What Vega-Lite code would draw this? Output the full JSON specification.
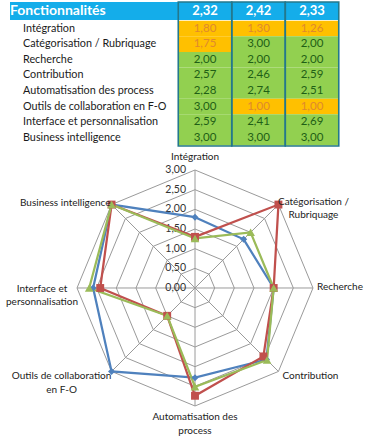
{
  "$schema": "https://vega.github.io/schema/vega-lite/v6.json",
  "width": 376,
  "height": 439,
  "autosize": {"type": "none"},
  "padding": 0,
  "background": "white",
  "config": {
    "view": {"stroke": null},
    "text": {"font": "Lato"},
    "locale": {"number": {"decimal": ",", "thousands": " ", "grouping": [3], "currency": ["", " €"]}}
  },
  "datasets": {
    "scores": [
      {"feature": "Intégration", "i": 0, "series": 1, "value": 1.80},
      {"feature": "Intégration", "i": 0, "series": 2, "value": 1.30},
      {"feature": "Intégration", "i": 0, "series": 3, "value": 1.26},
      {"feature": "Catégorisation / Rubriquage", "i": 1, "series": 1, "value": 1.75},
      {"feature": "Catégorisation / Rubriquage", "i": 1, "series": 2, "value": 3.00},
      {"feature": "Catégorisation / Rubriquage", "i": 1, "series": 3, "value": 2.00},
      {"feature": "Recherche", "i": 2, "series": 1, "value": 2.00},
      {"feature": "Recherche", "i": 2, "series": 2, "value": 2.00},
      {"feature": "Recherche", "i": 2, "series": 3, "value": 2.00},
      {"feature": "Contribution", "i": 3, "series": 1, "value": 2.57},
      {"feature": "Contribution", "i": 3, "series": 2, "value": 2.46},
      {"feature": "Contribution", "i": 3, "series": 3, "value": 2.59},
      {"feature": "Automatisation des process", "i": 4, "series": 1, "value": 2.28},
      {"feature": "Automatisation des process", "i": 4, "series": 2, "value": 2.74},
      {"feature": "Automatisation des process", "i": 4, "series": 3, "value": 2.51},
      {"feature": "Outils de collaboration en F-O", "i": 5, "series": 1, "value": 3.00},
      {"feature": "Outils de collaboration en F-O", "i": 5, "series": 2, "value": 1.00},
      {"feature": "Outils de collaboration en F-O", "i": 5, "series": 3, "value": 1.00},
      {"feature": "Interface et personnalisation", "i": 6, "series": 1, "value": 2.59},
      {"feature": "Interface et personnalisation", "i": 6, "series": 2, "value": 2.41},
      {"feature": "Interface et personnalisation", "i": 6, "series": 3, "value": 2.69},
      {"feature": "Business intelligence", "i": 7, "series": 1, "value": 3.00},
      {"feature": "Business intelligence", "i": 7, "series": 2, "value": 3.00},
      {"feature": "Business intelligence", "i": 7, "series": 3, "value": 3.00}
    ],
    "features": [
      {"feature": "Intégration", "i": 0, "label": "Intégration"},
      {"feature": "Catégorisation / Rubriquage", "i": 1, "label": "Catégorisation /\nRubriquage"},
      {"feature": "Recherche", "i": 2, "label": "Recherche"},
      {"feature": "Contribution", "i": 3, "label": "Contribution"},
      {"feature": "Automatisation des process", "i": 4, "label": "Automatisation des\nprocess"},
      {"feature": "Outils de collaboration en F-O", "i": 5, "label": "Outils de collaboration\nen F-O"},
      {"feature": "Interface et personnalisation", "i": 6, "label": "Interface et\npersonnalisation"},
      {"feature": "Business intelligence", "i": 7, "label": "Business intelligence"}
    ],
    "averages": [
      {"series": 1, "avg": 2.32},
      {"series": 2, "avg": 2.42},
      {"series": 3, "avg": 2.33}
    ],
    "levels": [
      {"level": 0.0},
      {"level": 0.5},
      {"level": 1.0},
      {"level": 1.5},
      {"level": 2.0},
      {"level": 2.5},
      {"level": 3.0}
    ],
    "rings": [
      {"level": 0.5, "i": [0, 1, 2, 3, 4, 5, 6, 7]},
      {"level": 1.0, "i": [0, 1, 2, 3, 4, 5, 6, 7]},
      {"level": 1.5, "i": [0, 1, 2, 3, 4, 5, 6, 7]},
      {"level": 2.0, "i": [0, 1, 2, 3, 4, 5, 6, 7]},
      {"level": 2.5, "i": [0, 1, 2, 3, 4, 5, 6, 7]},
      {"level": 3.0, "i": [0, 1, 2, 3, 4, 5, 6, 7]}
    ],
    "spokes": [
      {"i": 0, "r": [0, 3]},
      {"i": 1, "r": [0, 3]},
      {"i": 2, "r": [0, 3]},
      {"i": 3, "r": [0, 3]},
      {"i": 4, "r": [0, 3]},
      {"i": 5, "r": [0, 3]},
      {"i": 6, "r": [0, 3]},
      {"i": 7, "r": [0, 3]}
    ],
    "header": [{"title": "Fonctionnalités"}]
  },
  "resolve": {"scale": {"x": "independent", "y": "independent"}},
  "layer": [
    {
      "layer": [
        {
          "data": {"name": "header"},
          "transform": [
            {"calculate": "-2.645", "as": "x0"},
            {"calculate": "0.5", "as": "x1"},
            {"calculate": "-1.699", "as": "y0"},
            {"calculate": "-0.545", "as": "y1"}
          ],
          "mark": {"type": "rect", "fill": "#14ADEA"},
          "encoding": {
            "x": {"field": "x0", "type": "quantitative", "scale": {"domain": [-2.832, 4.196], "nice": false, "zero": false}, "axis": null},
            "x2": {"field": "x1"},
            "y": {"field": "y0", "type": "quantitative", "scale": {"domain": [-1.827, 26.314], "nice": false, "zero": false, "reverse": true}, "axis": null},
            "y2": {"field": "y1"}
          }
        },
        {
          "data": {"name": "averages"},
          "transform": [
            {"calculate": "datum.series - 0.5", "as": "x0"},
            {"calculate": "datum.series + 0.5", "as": "x1"},
            {"calculate": "-1.699", "as": "y0"},
            {"calculate": "-0.545", "as": "y1"}
          ],
          "mark": {"type": "rect", "fill": "#14ADEA"},
          "encoding": {
            "x": {"field": "x0", "type": "quantitative", "scale": {"domain": [-2.832, 4.196], "nice": false, "zero": false}, "axis": null},
            "x2": {"field": "x1"},
            "y": {"field": "y0", "type": "quantitative", "scale": {"domain": [-1.827, 26.314], "nice": false, "zero": false, "reverse": true}, "axis": null},
            "y2": {"field": "y1"}
          }
        },
        {
          "data": {"name": "scores"},
          "transform": [
            {"calculate": "datum.series - 0.5", "as": "x0"},
            {"calculate": "datum.series + 0.5", "as": "x1"},
            {"calculate": "datum.i - 0.5", "as": "y0"},
            {"calculate": "datum.i + 0.5", "as": "y1"}
          ],
          "mark": {"type": "rect"},
          "encoding": {
            "x": {"field": "x0", "type": "quantitative", "scale": {"domain": [-2.832, 4.196], "nice": false, "zero": false}, "axis": null},
            "x2": {"field": "x1"},
            "y": {"field": "y0", "type": "quantitative", "scale": {"domain": [-1.827, 26.314], "nice": false, "zero": false, "reverse": true}, "axis": null},
            "y2": {"field": "y1"},
            "fill": {"condition": {"test": "datum.value < 2", "value": "#FFC000"}, "value": "#92D050"}
          }
        },
        {
          "data": {"name": "averages"},
          "transform": [
            {"calculate": "datum.series - 0.5", "as": "x0"},
            {"calculate": "datum.series + 0.5", "as": "x1"},
            {"calculate": "-1.699", "as": "y0"},
            {"calculate": "7.532", "as": "y1"}
          ],
          "mark": {"type": "rect", "fill": "transparent", "stroke": "#24788C", "strokeWidth": 1.6},
          "encoding": {
            "x": {"field": "x0", "type": "quantitative", "scale": {"domain": [-2.832, 4.196], "nice": false, "zero": false}, "axis": null},
            "x2": {"field": "x1"},
            "y": {"field": "y0", "type": "quantitative", "scale": {"domain": [-1.827, 26.314], "nice": false, "zero": false, "reverse": true}, "axis": null},
            "y2": {"field": "y1"}
          }
        },
        {
          "data": {"name": "averages"},
          "transform": [{"calculate": "-1.122", "as": "yc"}],
          "mark": {"type": "text", "color": "white", "fontWeight": "bold", "fontSize": 13, "baseline": "middle"},
          "encoding": {
            "x": {"field": "series", "type": "quantitative", "scale": {"domain": [-2.832, 4.196], "nice": false, "zero": false}, "axis": null},
            "y": {"field": "yc", "type": "quantitative", "scale": {"domain": [-1.827, 26.314], "nice": false, "zero": false, "reverse": true}, "axis": null},
            "text": {"field": "avg", "type": "quantitative", "format": ".2f"}
          }
        },
        {
          "data": {"name": "header"},
          "transform": [{"calculate": "-2.645", "as": "xc"}, {"calculate": "-1.122", "as": "yc"}],
          "mark": {"type": "text", "color": "white", "fontWeight": "bold", "fontSize": 14, "align": "left", "baseline": "middle"},
          "encoding": {
            "x": {"field": "xc", "type": "quantitative", "scale": {"domain": [-2.832, 4.196], "nice": false, "zero": false}, "axis": null},
            "y": {"field": "yc", "type": "quantitative", "scale": {"domain": [-1.827, 26.314], "nice": false, "zero": false, "reverse": true}, "axis": null},
            "text": {"field": "title", "type": "nominal"}
          }
        },
        {
          "data": {"name": "features"},
          "transform": [{"calculate": "-2.402", "as": "xc"}],
          "mark": {"type": "text", "color": "#1a1a1a", "fontSize": 10.8, "align": "left", "baseline": "middle"},
          "encoding": {
            "x": {"field": "xc", "type": "quantitative", "scale": {"domain": [-2.832, 4.196], "nice": false, "zero": false}, "axis": null},
            "y": {"field": "i", "type": "quantitative", "scale": {"domain": [-1.827, 26.314], "nice": false, "zero": false, "reverse": true}, "axis": null},
            "text": {"field": "feature", "type": "nominal"}
          }
        },
        {
          "data": {"name": "scores"},
          "mark": {"type": "text", "fontSize": 11.5, "baseline": "middle"},
          "encoding": {
            "x": {"field": "series", "type": "quantitative", "scale": {"domain": [-2.832, 4.196], "nice": false, "zero": false}, "axis": null},
            "y": {"field": "i", "type": "quantitative", "scale": {"domain": [-1.827, 26.314], "nice": false, "zero": false, "reverse": true}, "axis": null},
            "text": {"field": "value", "type": "quantitative", "format": ".2f"},
            "color": {"condition": {"test": "datum.value < 2", "value": "#E0892E"}, "value": "#1F5F16"}
          }
        }
      ]
    },
    {
      "layer": [
        {
          "data": {"name": "rings"},
          "transform": [
            {"flatten": ["i"]},
            {"calculate": "datum.level * sin(datum.i * PI / 4)", "as": "px"},
            {"calculate": "datum.level * cos(datum.i * PI / 4)", "as": "py"}
          ],
          "mark": {"type": "line", "interpolate": "linear-closed", "stroke": "#9A9A9A", "strokeWidth": 1},
          "encoding": {
            "x": {"field": "px", "type": "quantitative", "scale": {"domain": [-4.958, 4.602], "nice": false, "zero": false}, "axis": null},
            "y": {"field": "py", "type": "quantitative", "scale": {"domain": [-3.839, 7.322], "nice": false, "zero": false}, "axis": null},
            "detail": {"field": "level", "type": "nominal"},
            "order": {"field": "i", "type": "quantitative"}
          }
        },
        {
          "data": {"name": "spokes"},
          "transform": [
            {"flatten": ["r"]},
            {"calculate": "datum.r * sin(datum.i * PI / 4)", "as": "px"},
            {"calculate": "datum.r * cos(datum.i * PI / 4)", "as": "py"}
          ],
          "mark": {"type": "line", "stroke": "#9A9A9A", "strokeWidth": 1},
          "encoding": {
            "x": {"field": "px", "type": "quantitative", "scale": {"domain": [-4.958, 4.602], "nice": false, "zero": false}, "axis": null},
            "y": {"field": "py", "type": "quantitative", "scale": {"domain": [-3.839, 7.322], "nice": false, "zero": false}, "axis": null},
            "detail": {"field": "i", "type": "nominal"},
            "order": {"field": "r", "type": "quantitative"}
          }
        },
        {
          "data": {"name": "levels"},
          "transform": [{"calculate": "0", "as": "px"}],
          "mark": {"type": "text", "align": "right", "baseline": "middle", "dx": -9, "fontSize": 10.5, "color": "#333333"},
          "encoding": {
            "x": {"field": "px", "type": "quantitative", "scale": {"domain": [-4.958, 4.602], "nice": false, "zero": false}, "axis": null},
            "y": {"field": "level", "type": "quantitative", "scale": {"domain": [-3.839, 7.322], "nice": false, "zero": false}, "axis": null},
            "text": {"field": "level", "type": "quantitative", "format": ".2f"}
          }
        },
        {
          "data": {"name": "scores"},
          "transform": [
            {"calculate": "datum.value * sin(datum.i * PI / 4)", "as": "px"},
            {"calculate": "datum.value * cos(datum.i * PI / 4)", "as": "py"}
          ],
          "mark": {"type": "line", "interpolate": "linear-closed", "strokeWidth": 2.25},
          "encoding": {
            "x": {"field": "px", "type": "quantitative", "scale": {"domain": [-4.958, 4.602], "nice": false, "zero": false}, "axis": null},
            "y": {"field": "py", "type": "quantitative", "scale": {"domain": [-3.839, 7.322], "nice": false, "zero": false}, "axis": null},
            "color": {"field": "series", "type": "nominal", "scale": {"domain": [1, 2, 3], "range": ["#4F81BD", "#C0504D", "#9BBB59"]}, "legend": null},
            "order": {"field": "i", "type": "quantitative"}
          }
        },
        {
          "data": {"name": "scores"},
          "transform": [
            {"calculate": "datum.value * sin(datum.i * PI / 4)", "as": "px"},
            {"calculate": "datum.value * cos(datum.i * PI / 4)", "as": "py"}
          ],
          "mark": {"type": "point", "filled": true, "opacity": 1},
          "encoding": {
            "x": {"field": "px", "type": "quantitative", "scale": {"domain": [-4.958, 4.602], "nice": false, "zero": false}, "axis": null},
            "y": {"field": "py", "type": "quantitative", "scale": {"domain": [-3.839, 7.322], "nice": false, "zero": false}, "axis": null},
            "color": {"field": "series", "type": "nominal", "scale": {"domain": [1, 2, 3], "range": ["#4F81BD", "#C0504D", "#9BBB59"]}, "legend": null},
            "shape": {"field": "series", "type": "nominal", "scale": {"domain": [1, 2, 3], "range": ["diamond", "square", "triangle-up"]}, "legend": null},
            "size": {"field": "series", "type": "ordinal", "scale": {"domain": [1, 2, 3], "range": [50, 75, 65]}, "legend": null},
            "order": {"field": "series", "type": "quantitative"}
          }
        },
        {
          "data": {"name": "features"},
          "transform": [
            {"filter": "datum.i == 0"},
            {"calculate": "3 * sin(datum.i * PI / 4)", "as": "vx"},
            {"calculate": "3 * cos(datum.i * PI / 4)", "as": "vy"}
          ],
          "mark": {"type": "text", "align": "center", "baseline": "bottom", "dy": -8, "fontSize": 10, "color": "#222222"},
          "encoding": {
            "x": {"field": "vx", "type": "quantitative", "scale": {"domain": [-4.958, 4.602], "nice": false, "zero": false}, "axis": null},
            "y": {"field": "vy", "type": "quantitative", "scale": {"domain": [-3.839, 7.322], "nice": false, "zero": false}, "axis": null},
            "text": {"field": "label", "type": "nominal"}
          }
        },
        {
          "data": {"name": "features"},
          "transform": [
            {"filter": "datum.i == 1"},
            {"calculate": "3 * sin(datum.i * PI / 4)", "as": "vx"},
            {"calculate": "3 * cos(datum.i * PI / 4)", "as": "vy"}
          ],
          "mark": {"type": "text", "align": "center", "baseline": "middle", "dx": 35, "dy": -3, "fontSize": 10, "color": "#222222", "lineBreak": "\n", "lineHeight": 13.5},
          "encoding": {
            "x": {"field": "vx", "type": "quantitative", "scale": {"domain": [-4.958, 4.602], "nice": false, "zero": false}, "axis": null},
            "y": {"field": "vy", "type": "quantitative", "scale": {"domain": [-3.839, 7.322], "nice": false, "zero": false}, "axis": null},
            "text": {"field": "label", "type": "nominal"}
          }
        },
        {
          "data": {"name": "features"},
          "transform": [
            {"filter": "datum.i == 2"},
            {"calculate": "3 * sin(datum.i * PI / 4)", "as": "vx"},
            {"calculate": "3 * cos(datum.i * PI / 4)", "as": "vy"}
          ],
          "mark": {"type": "text", "align": "left", "baseline": "middle", "dx": 4, "dy": -1, "fontSize": 10, "color": "#222222"},
          "encoding": {
            "x": {"field": "vx", "type": "quantitative", "scale": {"domain": [-4.958, 4.602], "nice": false, "zero": false}, "axis": null},
            "y": {"field": "vy", "type": "quantitative", "scale": {"domain": [-3.839, 7.322], "nice": false, "zero": false}, "axis": null},
            "text": {"field": "label", "type": "nominal"}
          }
        },
        {
          "data": {"name": "features"},
          "transform": [
            {"filter": "datum.i == 3"},
            {"calculate": "3 * sin(datum.i * PI / 4)", "as": "vx"},
            {"calculate": "3 * cos(datum.i * PI / 4)", "as": "vy"}
          ],
          "mark": {"type": "text", "align": "left", "baseline": "middle", "dx": 4, "dy": 5, "fontSize": 10, "color": "#222222"},
          "encoding": {
            "x": {"field": "vx", "type": "quantitative", "scale": {"domain": [-4.958, 4.602], "nice": false, "zero": false}, "axis": null},
            "y": {"field": "vy", "type": "quantitative", "scale": {"domain": [-3.839, 7.322], "nice": false, "zero": false}, "axis": null},
            "text": {"field": "label", "type": "nominal"}
          }
        },
        {
          "data": {"name": "features"},
          "transform": [
            {"filter": "datum.i == 4"},
            {"calculate": "3 * sin(datum.i * PI / 4)", "as": "vx"},
            {"calculate": "3 * cos(datum.i * PI / 4)", "as": "vy"}
          ],
          "mark": {"type": "text", "align": "center", "baseline": "top", "dy": 6, "fontSize": 10, "color": "#222222", "lineBreak": "\n", "lineHeight": 14.5},
          "encoding": {
            "x": {"field": "vx", "type": "quantitative", "scale": {"domain": [-4.958, 4.602], "nice": false, "zero": false}, "axis": null},
            "y": {"field": "vy", "type": "quantitative", "scale": {"domain": [-3.839, 7.322], "nice": false, "zero": false}, "axis": null},
            "text": {"field": "label", "type": "nominal"}
          }
        },
        {
          "data": {"name": "features"},
          "transform": [
            {"filter": "datum.i == 5"},
            {"calculate": "3 * sin(datum.i * PI / 4)", "as": "vx"},
            {"calculate": "3 * cos(datum.i * PI / 4)", "as": "vy"}
          ],
          "mark": {"type": "text", "align": "center", "baseline": "middle", "dx": -50, "dy": 5, "fontSize": 10, "color": "#222222", "lineBreak": "\n", "lineHeight": 13.5},
          "encoding": {
            "x": {"field": "vx", "type": "quantitative", "scale": {"domain": [-4.958, 4.602], "nice": false, "zero": false}, "axis": null},
            "y": {"field": "vy", "type": "quantitative", "scale": {"domain": [-3.839, 7.322], "nice": false, "zero": false}, "axis": null},
            "text": {"field": "label", "type": "nominal"}
          }
        },
        {
          "data": {"name": "features"},
          "transform": [
            {"filter": "datum.i == 6"},
            {"calculate": "3 * sin(datum.i * PI / 4)", "as": "vx"},
            {"calculate": "3 * cos(datum.i * PI / 4)", "as": "vy"}
          ],
          "mark": {"type": "text", "align": "center", "baseline": "middle", "dx": -35, "dy": 1, "fontSize": 10, "color": "#222222", "lineBreak": "\n", "lineHeight": 13.5},
          "encoding": {
            "x": {"field": "vx", "type": "quantitative", "scale": {"domain": [-4.958, 4.602], "nice": false, "zero": false}, "axis": null},
            "y": {"field": "vy", "type": "quantitative", "scale": {"domain": [-3.839, 7.322], "nice": false, "zero": false}, "axis": null},
            "text": {"field": "label", "type": "nominal"}
          }
        },
        {
          "data": {"name": "features"},
          "transform": [
            {"filter": "datum.i == 7"},
            {"calculate": "3 * sin(datum.i * PI / 4)", "as": "vx"},
            {"calculate": "3 * cos(datum.i * PI / 4)", "as": "vy"}
          ],
          "mark": {"type": "text", "align": "right", "baseline": "middle", "dx": -1, "dy": -2, "fontSize": 10, "color": "#222222"},
          "encoding": {
            "x": {"field": "vx", "type": "quantitative", "scale": {"domain": [-4.958, 4.602], "nice": false, "zero": false}, "axis": null},
            "y": {"field": "vy", "type": "quantitative", "scale": {"domain": [-3.839, 7.322], "nice": false, "zero": false}, "axis": null},
            "text": {"field": "label", "type": "nominal"}
          }
        }
      ]
    }
  ]
}
